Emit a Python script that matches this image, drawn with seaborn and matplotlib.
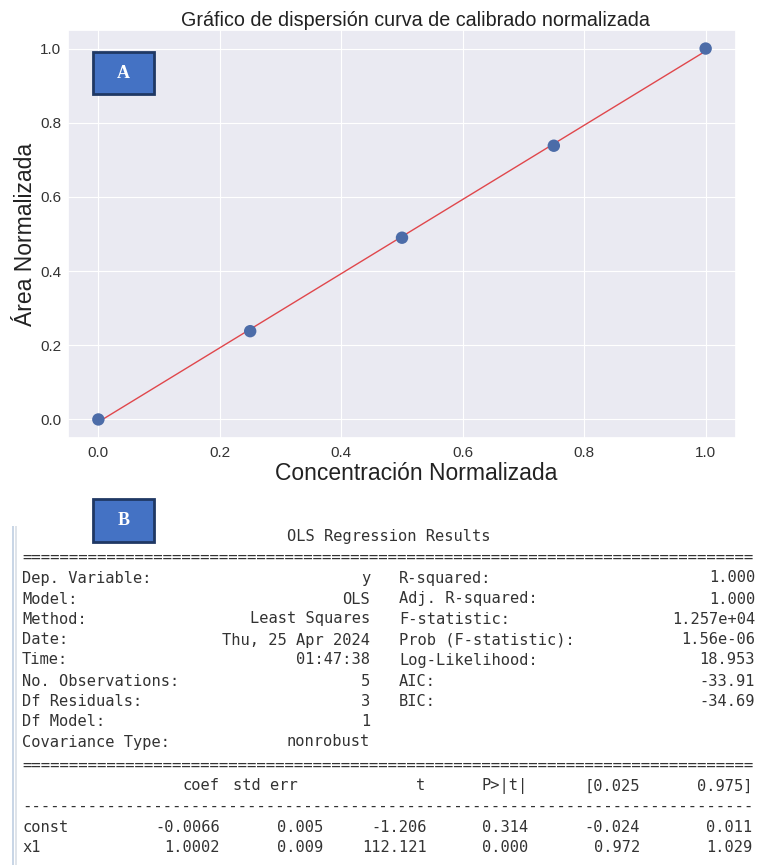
import numpy as np
import pandas as pd
import seaborn as sns
import matplotlib.pyplot as plt
from matplotlib.patches import Rectangle

# ---- chart data ----
conc = [0.0, 0.25, 0.5, 0.75, 1.0]
area = [0.0, 0.238, 0.490, 0.738, 1.0]
xticks = [0.0, 0.2, 0.4, 0.6, 0.8, 1.0]
yticks = [0.0, 0.2, 0.4, 0.6, 0.8, 1.0]

# ---- OLS summary table text ----
left_labels = ["Dep. Variable:", "Model:", "Method:", "Date:", "Time:",
               "No. Observations:", "Df Residuals:", "Df Model:", "Covariance Type:"]
left_values = ["y", "OLS", "Least Squares", "Thu, 25 Apr 2024", "01:47:38",
               "5", "3", "1", "nonrobust"]
right_labels = ["R-squared:", "Adj. R-squared:", "F-statistic:", "Prob (F-statistic):",
                "Log-Likelihood:", "AIC:", "BIC:"]
right_values = ["1.000", "1.000", "1.257e+04", "1.56e-06", "18.953", "-33.91", "-34.69"]
coef_header = ["coef", "std err", "t", "P>|t|", "[0.025", "0.975]"]
coef_rows = ["const", "x1"]
coef_values = [["-0.0066", "0.005", "-1.206", "0.314", "-0.024", "0.011"],
               ["1.0002", "0.009", "112.121", "0.000", "0.972", "1.029"]]

sns.set_theme(style="darkgrid")
plt.rcParams['font.family'] = ['Liberation Sans', 'DejaVu Sans']

W, H = 759, 865
fig = plt.figure(figsize=(W / 100, H / 100), dpi=100)


def fx(x):
    return x / W


def fy(y):
    return 1 - y / H


ax_l, ax_r, ax_t, ax_b = 68, 736, 30, 438
ax = fig.add_axes([fx(ax_l), fy(ax_b), (ax_r - ax_l) / W, (ax_b - ax_t) / H])
df = pd.DataFrame({"x": conc, "y": area})
sns.regplot(data=df, x="x", y="y", ax=ax, ci=None, scatter=False,
            line_kws=dict(color="#e0474c", lw=1.0))
sns.scatterplot(data=df, x="x", y="y", ax=ax, s=80, color="#4c6ca8",
                edgecolor="none", zorder=3)
ax.grid(True, color="white", lw=0.8)
ax.set_xlim(-0.05, 1.05)
ax.set_ylim(-0.05, 1.05)
ax.set_xticks(xticks)
ax.set_yticks(yticks)
ax.set_xticklabels([f"{v:.1f}" for v in xticks])
ax.set_yticklabels([f"{v:.1f}" for v in yticks])
ax.tick_params(labelsize=11, colors="#333333", length=0)
ax.tick_params(axis="x", pad=6)
ax.tick_params(axis="y", pad=5)
ax.set_xlabel("Concentración Normalizada", fontsize=16.5, color="#222222")
ax.xaxis.label.set_va("center")
ax.xaxis.set_label_coords((416 - ax_l) / (ax_r - ax_l), -(473 - ax_b) / (ax_b - ax_t))
ax.set_ylabel("Área Normalizada", fontsize=16.5, color="#222222")
ax.yaxis.label.set_va("center")
ax.yaxis.set_label_coords(-(ax_l - 26) / (ax_r - ax_l), 0.5)
ax.set_title("Gráfico de dispersión curva de calibrado normalizada",
             fontsize=14.2, x=(415 - ax_l) / (ax_r - ax_l), pad=3, color="#222222")

# label boxes
for (x0, y0, x1, y1, lab) in [(93, 52, 154, 94, "A"), (93, 499, 154, 542, "B")]:
    fig.patches.append(Rectangle((fx(x0), fy(y1)), (x1 - x0) / W, (y1 - y0) / H,
                                 transform=fig.transFigure, facecolor="#4472C4",
                                 edgecolor="#1F3864", lw=2, zorder=5))
    fig.text(fx((x0 + x1) / 2), fy((y0 + y1) / 2), lab, ha="center", va="center",
             color="white", fontsize=13, fontweight="bold",
             family=["Liberation Serif", "DejaVu Serif"], zorder=6)

# left border of text panel
fig.patches.append(Rectangle((fx(12), 0), 2 / W, fy(526), transform=fig.transFigure,
                             facecolor="#c9d6e6", edgecolor="none"))
fig.patches.append(Rectangle((fx(15), 0), 1.5 / W, fy(526), transform=fig.transFigure,
                             facecolor="#dfe4ea", edgecolor="none"))

mono = dict(family=["DejaVu Sans Mono"], fontsize=11.1, color="#333333", va="center")

fig.text(fx(389), fy(537), "OLS Regression Results", ha="center", **mono)
sep_kw = dict(mono)
sep_kw["fontsize"] = 11.25
fig.text(fx(22), fy(557), "=" * 78, ha="left", **sep_kw)
row_y = [578, 599, 619, 640, 660, 681, 701, 722, 742]
for i, (lab, val) in enumerate(zip(left_labels, left_values)):
    fig.text(fx(22), fy(row_y[i]), lab, ha="left", **mono)
    fig.text(fx(370), fy(row_y[i]), val, ha="right", **mono)
for i, (lab, val) in enumerate(zip(right_labels, right_values)):
    fig.text(fx(399), fy(row_y[i]), lab, ha="left", **mono)
    fig.text(fx(755), fy(row_y[i]), val, ha="right", **mono)
fig.text(fx(22), fy(765), "=" * 78, ha="left", **sep_kw)
head_x = [220, 298, 425, 528, 640, 752]
col_x = [220, 323, 427, 528, 640, 752]
for h, cx in zip(coef_header, head_x):
    fig.text(fx(cx), fy(786), h, ha="right", **mono)
fig.text(fx(22), fy(806), "-" * 78, ha="left", **sep_kw)
for r, (name, vals) in enumerate(zip(coef_rows, coef_values)):
    yy = [827, 847][r]
    fig.text(fx(22), fy(yy), name, ha="left", **mono)
    for v, cx in zip(vals, col_x):
        fig.text(fx(cx), fy(yy), v, ha="right", **mono)

fig.savefig("out.png", dpi=100, facecolor="white")
